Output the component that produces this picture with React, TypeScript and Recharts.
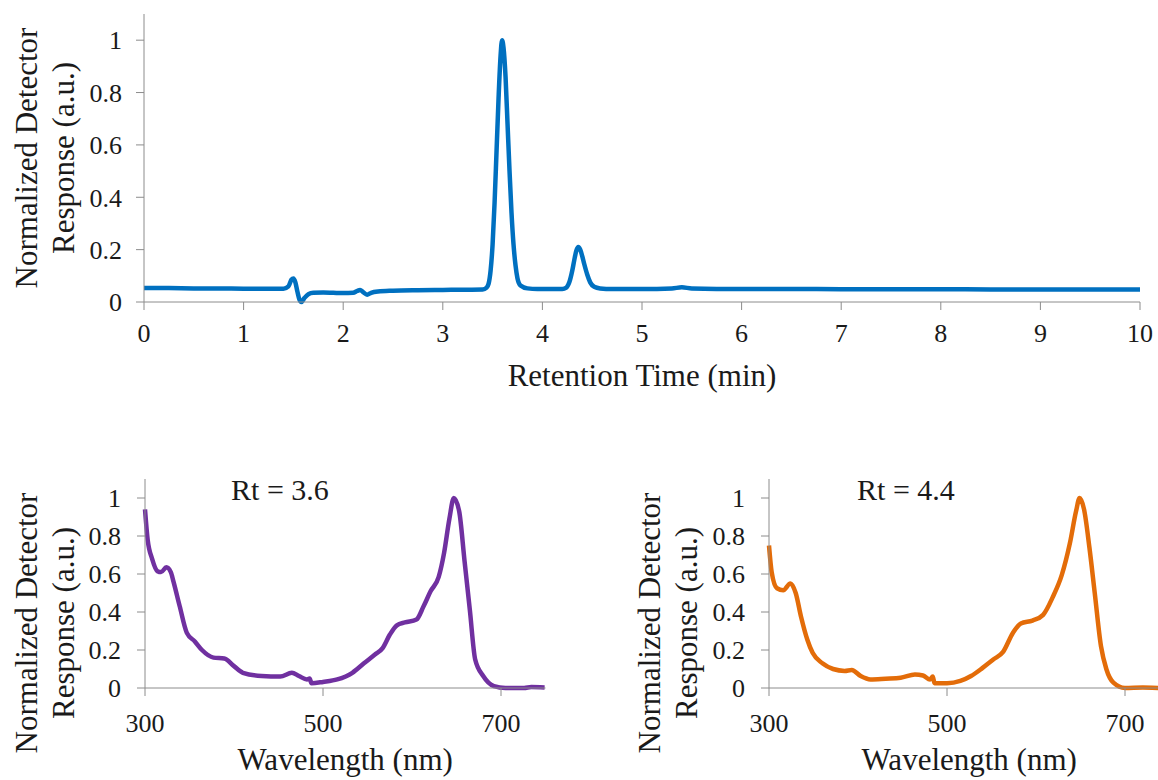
import React from 'react';
import { LineChart, Line, XAxis, YAxis } from 'recharts';

const FONT = 'Liberation Serif';
const AXIS = '#8c8c8c';
const INK = '#1a1a1a';

// Chromatogram (top)
const rtTime = [
  0, 0.25, 0.5, 0.75, 1.0, 1.25, 1.4, 1.45, 1.48, 1.5, 1.52, 1.54, 1.56, 1.58, 1.61, 1.65, 1.7, 1.8, 1.9, 2.0,
  2.1, 2.14, 2.17, 2.2, 2.24, 2.28, 2.35, 2.5, 2.75, 3.0, 3.25, 3.4, 3.44, 3.46, 3.48, 3.5, 3.52, 3.54, 3.56, 3.58,
  3.595, 3.61, 3.63, 3.65, 3.67, 3.69, 3.71, 3.73, 3.75, 3.78, 3.85, 3.95, 4.1, 4.2, 4.24, 4.27, 4.3, 4.32, 4.34, 4.36,
  4.38, 4.4, 4.42, 4.45, 4.48, 4.52, 4.58, 4.7, 5.0, 5.3, 5.4, 5.5, 6.0, 6.5, 7.0, 7.5, 8.0, 8.5, 9.0, 9.5, 10.0,
];
const rtResponse = [
  0.053, 0.053, 0.052, 0.052, 0.051, 0.051, 0.051, 0.06, 0.085, 0.09, 0.075, 0.04, 0.01, 0.0, 0.015, 0.03, 0.035, 0.036, 0.035, 0.034,
  0.035, 0.042, 0.046, 0.038, 0.028, 0.035, 0.04, 0.043, 0.045, 0.046, 0.047, 0.048, 0.055, 0.07, 0.12, 0.22, 0.38, 0.58, 0.78, 0.94,
  1.0, 0.97, 0.86, 0.68, 0.5, 0.34, 0.22, 0.14, 0.09, 0.063, 0.052, 0.05, 0.05, 0.05, 0.055, 0.075, 0.12, 0.16, 0.195, 0.21,
  0.2, 0.175, 0.145, 0.105, 0.075, 0.058, 0.052, 0.05, 0.05, 0.052, 0.056, 0.052, 0.05, 0.05, 0.049, 0.049, 0.049, 0.048, 0.048, 0.048, 0.048,
];
const rtTicks = [0, 1, 2, 3, 4, 5, 6, 7, 8, 9, 10];
const respTicks = [0, 0.2, 0.4, 0.6, 0.8, 1];
const wlTicks = [300, 500, 700];

// Spectrum at Rt = 3.6
const wl36 = [
  300, 303, 308, 314, 318, 324, 329, 332, 339, 347, 356, 364, 377, 389, 400, 410, 431, 452, 465, 473,
  482, 485, 487, 500, 516, 533, 546, 558, 567, 575, 583, 592, 605, 613, 621, 630, 636, 642, 647, 653,
  659, 665, 671, 680, 692, 705, 726, 734, 749,
];
const abs36 = [
  0.94, 0.78, 0.68, 0.615, 0.61, 0.635, 0.61, 0.56, 0.43, 0.29, 0.245, 0.2, 0.16, 0.155, 0.115, 0.08, 0.063, 0.06, 0.08, 0.063,
  0.045, 0.05, 0.025, 0.032, 0.045, 0.08, 0.13, 0.175, 0.21, 0.28, 0.33, 0.345, 0.36, 0.43, 0.51, 0.585, 0.71, 0.89, 1.0, 0.93,
  0.67, 0.41, 0.15, 0.063, 0.01, 0.0, 0.0, 0.005, 0.003,
];

// Spectrum at Rt = 4.4
const wl44 = [
  300, 303, 309, 316, 324, 330, 336, 343, 349, 360, 372, 385, 393, 403, 414, 431, 448, 464, 473, 481,
  484, 486, 500, 515, 527, 540, 552, 563, 574, 583, 596, 608, 619, 629, 638, 645, 649, 654, 660, 666,
  673, 679, 687, 700, 720, 741, 750,
];
const abs44 = [
  0.75, 0.61, 0.525, 0.515, 0.55, 0.5, 0.375, 0.255, 0.185, 0.13, 0.1, 0.09, 0.095, 0.063, 0.045, 0.049, 0.054, 0.071, 0.066, 0.045,
  0.06, 0.025, 0.025, 0.037, 0.063, 0.106, 0.15, 0.19, 0.29, 0.34, 0.355, 0.385, 0.48, 0.595, 0.76, 0.93, 1.0, 0.94, 0.74, 0.5,
  0.22, 0.1, 0.028, 0.0, 0.002, 0.0, 0.002,
];

const zip = (xs: number[], ys: number[]) => xs.map((x, i) => ({ x, y: ys[i] }));
const chromData = zip(rtTime, rtResponse);
const spec36 = zip(wl36, abs36);
const spec44 = zip(wl44, abs44);

const tickStyle = { fill: INK, fontSize: 26, fontFamily: FONT };

const yTitle = (x1: number, x2: number, cyOffset: number, rt?: string, rtDx?: number) => (props: any) => {
  const vb = props.viewBox || { x: 0, y: 0, width: 0, height: 0 };
  const cy = vb.y + vb.height / 2 + cyOffset;
  const a = vb.x + x1;
  const b = vb.x + x2;
  return (
    <g>
      <text x={a} y={cy} transform={`rotate(-90 ${a} ${cy})`} textAnchor="middle" fontFamily={FONT} fontSize={31} fill={INK}>
        Normalized Detector
      </text>
      <text x={b} y={cy} transform={`rotate(-90 ${b} ${cy})`} textAnchor="middle" fontFamily={FONT} fontSize={31} fill={INK}>
        Response (a.u.)
      </text>
      {rt ? (
        <text x={vb.x + vb.width + (rtDx || 0)} y={vb.y + 21} textAnchor="middle" fontFamily={FONT} fontSize={30} fill={INK}>
          {rt}
        </text>
      ) : null}
    </g>
  );
};

const xTitle = (text: string, dy: number) => (props: any) => {
  const vb = props.viewBox || { x: 0, y: 0, width: 0, height: 0 };
  return (
    <text x={vb.x + vb.width / 2} y={vb.y + dy} textAnchor="middle" fontFamily={FONT} fontSize={31} fill={INK}>
      {text}
    </text>
  );
};

const Chromatogram = () => (
  <LineChart width={1158} height={400} data={chromData} margin={{ top: 14, right: 18, bottom: 38, left: 0 }}>
    <XAxis
      type="number"
      dataKey="x"
      domain={[0, 10]}
      ticks={rtTicks}
      interval={0}
      tickSize={8}
      tickMargin={14}
      height={60}
      axisLine={{ stroke: AXIS }}
      tickLine={{ stroke: AXIS }}
      tick={tickStyle}
      label={xTitle('Retention Time (min)', 84)}
    />
    <YAxis
      type="number"
      domain={[0, 1.1]}
      ticks={respTicks}
      interval={0}
      width={144}
      tickSize={8}
      tickMargin={14}
      axisLine={{ stroke: AXIS }}
      tickLine={{ stroke: AXIS }}
      tick={tickStyle}
      label={yTitle(37, 74, 0)}
    />
    <Line type="monotone" dataKey="y" stroke="#0070C0" strokeWidth={4.5} dot={false} isAnimationActive={false} />
  </LineChart>
);

const Spectrum = ({ data, color, rt, yWidth, rightMargin, rtDx, width, t1, t2 }: any) => (
  <LineChart width={width} height={320} data={data} margin={{ top: 19, right: rightMargin, bottom: 32, left: 0 }}>
    <XAxis
      type="number"
      dataKey="x"
      domain={[300, 750]}
      ticks={wlTicks}
      interval={0}
      tickSize={8}
      tickMargin={18}
      height={60}
      axisLine={{ stroke: AXIS }}
      tickLine={{ stroke: AXIS }}
      tick={tickStyle}
      label={xTitle('Wavelength (nm)', 82)}
    />
    <YAxis
      type="number"
      domain={[0, 1.1]}
      ticks={respTicks}
      interval={0}
      width={yWidth}
      tickSize={8}
      tickMargin={16}
      axisLine={{ stroke: AXIS }}
      tickLine={{ stroke: AXIS }}
      tick={tickStyle}
      label={yTitle(t1, t2, 39.5, rt, rtDx)}
    />
    <Line type="monotone" dataKey="y" stroke={color} strokeWidth={4.5} dot={false} isAnimationActive={false} />
  </LineChart>
);

export default function App() {
  return (
    <div style={{ position: 'absolute', left: 0, top: 0, width: 1158, height: 780, overflow: 'hidden', background: '#fff' }}>
      <div style={{ position: 'absolute', left: 0, top: 0 }}>
        <Chromatogram />
      </div>
      <div style={{ position: 'absolute', left: 0, top: 460 }}>
        <Spectrum data={spec36} color="#7030A0" rt="Rt = 3.6" yWidth={145} width={580} rightMargin={34.5} rtDx={135} t1={37} t2={74} />
      </div>
      <div style={{ position: 'absolute', left: 580, top: 460 }}>
        <Spectrum data={spec44} color="#E36C09" rt="Rt = 4.4" yWidth={189} width={600} rightMargin={10.5} rtDx={137} t1={80} t2={117} />
      </div>
    </div>
  );
}
